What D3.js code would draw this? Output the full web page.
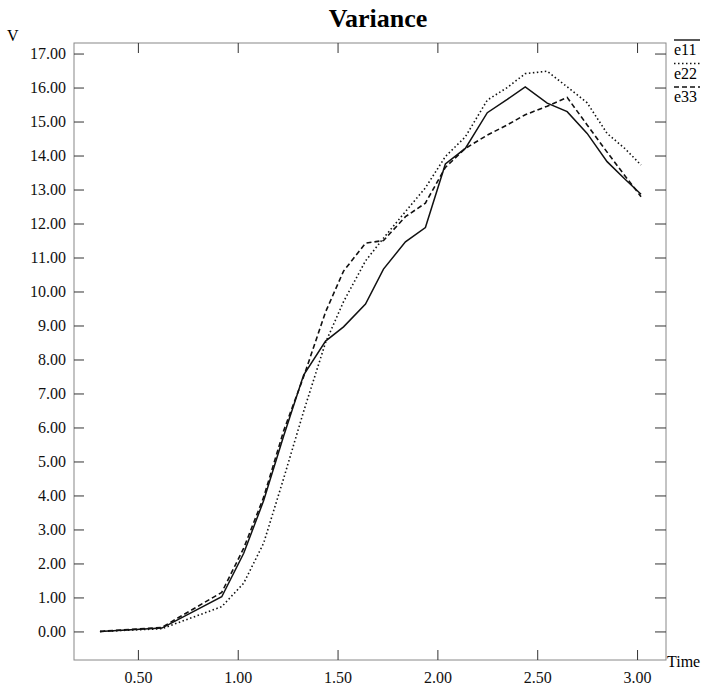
<!DOCTYPE html>
<html>
<head>
<meta charset="utf-8">
<script src="https://cdn.jsdelivr.net/npm/d3@7"></script>
<style>
  body { margin: 0; background: #fff; }
  svg { display: block; font-family: "Liberation Serif", "DejaVu Serif", serif; }
</style>
</head>
<body>
<div id="d3-container"></div>
<script>
// time points shared by the three series
const time = [0.31, 0.62, 0.92, 1.03, 1.13, 1.23, 1.33, 1.44, 1.53, 1.64, 1.73, 1.84,
              1.94, 2.04, 2.14, 2.25, 2.35, 2.44, 2.55, 2.65, 2.75, 2.85, 2.94, 3.02];

const e11 = [0.00, 0.10, 1.02, 2.30, 3.85, 5.75, 7.54, 8.54, 8.96, 9.63, 10.66, 11.46,
             11.88, 13.75, 14.21, 15.26, 15.65, 16.02, 15.54, 15.29, 14.65, 13.82, 13.30, 12.86];
const e22 = [0.00, 0.08, 0.73, 1.42, 2.60, 4.50, 6.47, 8.50, 9.70, 10.90, 11.57, 12.35,
             13.05, 13.97, 14.55, 15.63, 16.00, 16.41, 16.48, 16.02, 15.55, 14.65, 14.20, 13.72];
const e33 = [0.00, 0.12, 1.15, 2.45, 3.95, 5.90, 7.49, 9.40, 10.60, 11.42, 11.50, 12.20,
             12.60, 13.65, 14.21, 14.60, 14.90, 15.20, 15.45, 15.71, 14.90, 14.10, 13.40, 12.79];

const xTicks = [0.5, 1.0, 1.5, 2.0, 2.5, 3.0];
const yTicks = d3.range(0, 18);

const seriesNames = ["e11", "e22", "e33"];
const seriesValues = [e11, e22, e33];

const width = 704;
const height = 692;
const frame = {left: 74, right: 666, top: 43, bottom: 660};
const dashes = {e11: null, e22: "1.5,2.5", e33: "5,3"};

const svg = d3.select('#d3-container')
    .append('svg')
    .attr('width', width)
    .attr('height', height);

const x = d3.scaleLinear()
    .domain([0.18, 3.145])
    .range([frame.left, frame.right]);

const y = d3.scaleLinear()
    .domain([-0.84, 17.31])
    .range([frame.bottom, frame.top]);

// title
svg.append("text")
    .attr("x", 378)
    .attr("y", 27)
    .attr("text-anchor", "middle")
    .attr("font-size", "26px")
    .attr("font-weight", "bold")
    .text("Variance");

// frame
svg.append("rect")
    .attr("x", frame.left)
    .attr("y", frame.top)
    .attr("width", frame.right - frame.left)
    .attr("height", frame.bottom - frame.top)
    .attr("fill", "none")
    .attr("stroke", "#888")
    .attr("stroke-width", 1);

const fmt = d3.format(".2f");

function styleAxis(g) {
    g.select(".domain").remove();
    g.selectAll(".tick line").attr("stroke", "#333");
    g.selectAll(".tick text").attr("fill", "#111");
    g.attr("font-size", "16px").attr("font-family", "Liberation Serif, serif");
}

svg.append("g")
    .attr("transform", `translate(${frame.left},0)`)
    .call(d3.axisLeft(y).tickValues(yTicks).tickFormat(fmt).tickSize(-10).tickPadding(8))
    .call(styleAxis);

svg.append("g")
    .attr("transform", `translate(${frame.right},0)`)
    .call(d3.axisRight(y).tickValues(yTicks).tickFormat("").tickSize(-11))
    .call(styleAxis);

svg.append("g")
    .attr("transform", `translate(0,${frame.bottom})`)
    .call(d3.axisBottom(x).tickValues(xTicks).tickFormat(fmt).tickSize(-10).tickPadding(12))
    .call(styleAxis);

svg.append("g")
    .attr("transform", `translate(0,${frame.top})`)
    .call(d3.axisTop(x).tickValues(xTicks).tickFormat("").tickSize(-10))
    .call(styleAxis);

// axis names
svg.append("text")
    .attr("x", 7)
    .attr("y", 41)
    .attr("font-size", "16px")
    .text("V");

svg.append("text")
    .attr("x", frame.right + 1)
    .attr("y", 667)
    .attr("font-size", "16px")
    .text("Time");

// lines
const line = d3.line()
    .x(d => x(d[0]))
    .y(d => y(d[1]));

seriesNames.forEach((name, k) => {
    svg.append("path")
        .datum(time.map((t, i) => [t, seriesValues[k][i]]))
        .attr("fill", "none")
        .attr("stroke", "#111")
        .attr("stroke-width", name === "e11" ? 1.5 : 1.6)
        .attr("stroke-dasharray", dashes[name])
        .attr("d", line);
});

// legend: name with a line sample drawn above it
const legend = svg.append("g")
    .attr("transform", `translate(${frame.right + 8},0)`);

seriesNames.forEach((name, k) => {
    const top = 40 + k * 23.5;
    legend.append("line")
        .attr("x1", 0)
        .attr("x2", 26)
        .attr("y1", top)
        .attr("y2", top)
        .attr("stroke", "#111")
        .attr("stroke-width", 1.4)
        .attr("stroke-dasharray", dashes[name]);
    legend.append("text")
        .attr("x", 0)
        .attr("y", top + 15)
        .attr("font-size", "16px")
        .text(name);
});
</script>
</body>
</html>
